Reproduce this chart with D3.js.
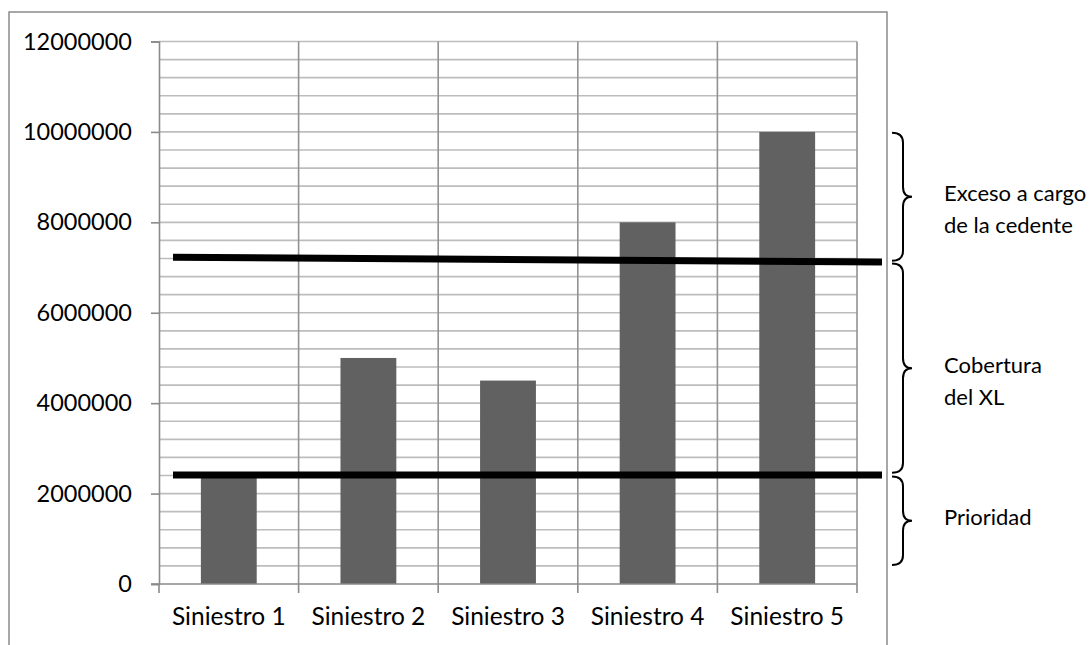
<!DOCTYPE html>
<html><head><meta charset="utf-8">
<script src="https://cdn.jsdelivr.net/npm/d3@7"></script>
<style>body{margin:0;background:#fff}svg{display:block}</style>
</head><body>
<svg id="c" width="1089" height="645"></svg>
<script>
// ---- data ----
const categories = ["Siniestro 1","Siniestro 2","Siniestro 3","Siniestro 4","Siniestro 5"];
const values = [2400000, 5000000, 4500000, 8000000, 10000000];
const yTicks = [0,2000000,4000000,6000000,8000000,10000000,12000000];
// threshold lines: [value at left end, value at right end]
const excesoLine = [7230000, 7120000];
const prioridadLine = [2410000, 2410000];
// braces: [top value, bottom value]
const braceRanges = [[9980000, 7150000],[7090000, 2460000],[2380000, 420000]];
const braceLabels = [["Exceso a cargo","de la cedente"],["Cobertura","del XL"],["Prioridad"]];

// ---- layout ----
const plot={left:159,right:857,top:41.5,bottom:584};
const font="Lato, 'Open Sans', sans-serif";
const svg=d3.select("#c");

const y=d3.scaleLinear().domain([0,12000000]).range([plot.bottom,plot.top]);
const xCat=d3.scaleBand().domain(categories).range([plot.left,plot.right]).padding(0);
const xBar=d3.scaleBand().domain(categories).range([plot.left,plot.right]).paddingInner(0.6).paddingOuter(0.3);

// frame
svg.append("rect").attr("x",9).attr("y",12).attr("width",878).attr("height",700)
  .attr("fill","none").attr("stroke","#8a8a8a").attr("stroke-width",1.5);

// horizontal minor gridlines
const minor=d3.range(400000,12000001,400000);
svg.append("g").selectAll("line").data(minor).join("line")
  .attr("x1",plot.left).attr("x2",plot.right)
  .attr("y1",d=>y(d)).attr("y2",d=>y(d))
  .attr("stroke","#bdbdbd").attr("stroke-width",1.6);

// vertical gridlines at category boundaries
const bounds=categories.map(c=>xCat(c)).concat([xCat(categories[categories.length-1])+xCat.bandwidth()]);
svg.append("g").selectAll("line").data(bounds.slice(1)).join("line")
  .attr("x1",d=>d).attr("x2",d=>d).attr("y1",plot.top).attr("y2",plot.bottom)
  .attr("stroke","#929292").attr("stroke-width",1.6);

// bars
svg.append("g").selectAll("rect").data(values).join("rect")
  .attr("x",(d,i)=>xBar(categories[i])).attr("width",xBar.bandwidth())
  .attr("y",d=>y(d)).attr("height",d=>y(0)-y(d)).attr("fill","#616161");

// y axis
const yAxis=d3.axisLeft(y).tickValues(yTicks).tickSize(8).tickFormat(d3.format("d")).tickPadding(19);
const ga=svg.append("g").attr("transform",`translate(${plot.left},0)`).call(yAxis);
ga.select(".domain").attr("stroke","#8a8a8a").attr("stroke-width",1.6);
ga.selectAll(".tick line").attr("stroke","#8a8a8a").attr("stroke-width",1.6);
ga.selectAll("text").attr("font-family",font).attr("font-size",23.5).attr("fill","#000");

// x axis
const xg=svg.append("g").attr("transform",`translate(0,${plot.bottom})`);
xg.append("line").attr("x1",plot.left-8).attr("x2",plot.right).attr("y1",0).attr("y2",0)
  .attr("stroke","#8a8a8a").attr("stroke-width",1.6);
xg.selectAll("line.t").data(bounds).join("line").attr("class","t")
  .attr("x1",d=>d).attr("x2",d=>d).attr("y1",0).attr("y2",9)
  .attr("stroke","#8a8a8a").attr("stroke-width",1.6);
xg.selectAll("text").data(categories).join("text")
  .attr("x",d=>xCat(d)+xCat.bandwidth()/2).attr("y",41)
  .attr("text-anchor","middle").attr("font-family",font).attr("font-size",24.5).text(d=>d);

// threshold lines
const lx0=plot.left+14, lx1=plot.right+25;
[excesoLine,prioridadLine].forEach(l=>{
  svg.append("line").attr("x1",lx0).attr("x2",lx1).attr("y1",y(l[0])).attr("y2",y(l[1]))
    .attr("stroke","#000").attr("stroke-width",7);
});

// braces
const bx0=892,bx1=903,bx2=912,r=10;
function brace(y0,y1){
  const ym=(y0+y1)/2;
  return `M${bx0},${y0} Q${bx1},${y0} ${bx1},${y0+r} L${bx1},${ym-r} Q${bx1},${ym} ${bx2},${ym} Q${bx1},${ym} ${bx1},${ym+r} L${bx1},${y1-r} Q${bx1},${y1} ${bx0},${y1}`;
}
braceRanges.forEach((b,i)=>{
  const y0=y(b[0]),y1=y(b[1]);
  svg.append("path").attr("d",brace(y0,y1)).attr("fill","none").attr("stroke","#000").attr("stroke-width",2);
  const ym=(y0+y1)/2;
  const lines=braceLabels[i];
  const lh=32;
  const start=ym-3;
  lines.forEach((t,j)=>{
    svg.append("text").attr("x",944).attr("y",start+j*lh).attr("dy","0.35em")
      .attr("font-family",font).attr("font-size",22).text(t);
  });
});
</script>
</body></html>
